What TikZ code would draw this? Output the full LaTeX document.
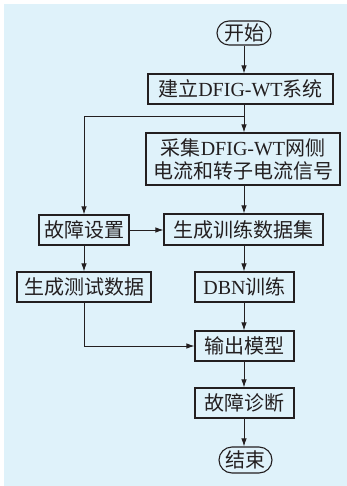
\documentclass[tikz,border=0pt]{standalone}
\usepackage{fontspec}
\setmainfont{Liberation Serif}
\newfontfamily\cjk{Noto Sans CJK SC}
\usetikzlibrary{arrows.meta,shapes.misc}
\definecolor{bgblue}{HTML}{DFF2FA}
\definecolor{ink}{HTML}{231F20}
\tikzset{
  box/.style={draw=ink,line width=1.1pt,fill=bgblue,inner sep=0pt,align=center,
    text=ink,font=\fontsize{20}{23}\selectfont\cjk},
  term/.style={box,rounded rectangle},
  arr/.style={draw=ink,line width=0.9pt,-{Latex[length=8pt,width=5.5pt]}},
  ln/.style={draw=ink,line width=0.9pt}
}
\newcommand{\lat}[1]{{\fontspec{Liberation Serif}#1}}
\begin{document}
\begin{tikzpicture}[x=1pt,y=-1pt]
\path[use as bounding box] (0,0) rectangle (347,486);
\fill[bgblue] (4,4) rectangle (347,486);
\node[term,minimum width=54pt,minimum height=24pt] (start) at (244,33) {开始};
\node[box,minimum width=185pt,minimum height=30pt] (n1) at (240.5,89) {建立\lat{DFIG-WT}系统};
\node[box,minimum width=194pt,minimum height=52pt] (n2) at (243,159) {采集\lat{DFIG-WT}网侧\\电流和转子电流信号};
\node[box,minimum width=90pt,minimum height=30pt] (n3) at (84,230) {故障设置};
\node[box,minimum width=159pt,minimum height=31pt] (n4) at (243.5,229.5) {生成训练数据集};
\node[box,minimum width=134pt,minimum height=30pt] (n5) at (84,287) {生成测试数据};
\node[box,minimum width=99pt,minimum height=30pt] (n6) at (244.5,287) {\lat{DBN}训练};
\node[box,minimum width=99pt,minimum height=30pt] (n7) at (244.5,346) {输出模型};
\node[box,minimum width=99pt,minimum height=30pt] (n8) at (244.5,403) {故障诊断};
\node[term,minimum width=53pt,minimum height=26pt] (end) at (245.5,460) {结束};
\coordinate (j) at (244,116);
\draw[arr] (start.south -| j) -- (j |- n1.north);
\draw[ln] (n1.south -| j) -- (j);
\draw[arr] (j) -- (j |- n2.north);
\draw[arr] (j) -| (n3.north);
\draw[arr] (n2.south -| j) -- (j |- n4.north);
\draw[arr] (n3.east) -- (n4.west |- n3.east);
\draw[arr] (n3.south) -- (n5.north);
\draw[arr] (n4.south -| j) -- (j |- n6.north);
\draw[arr] (n5.south) |- (n7.west);
\draw[arr] (n6.south -| j) -- (j |- n7.north);
\draw[arr] (n7.south -| j) -- (j |- n8.north);
\draw[arr] (n8.south -| j) -- (j |- end.north);
\end{tikzpicture}
\end{document}
